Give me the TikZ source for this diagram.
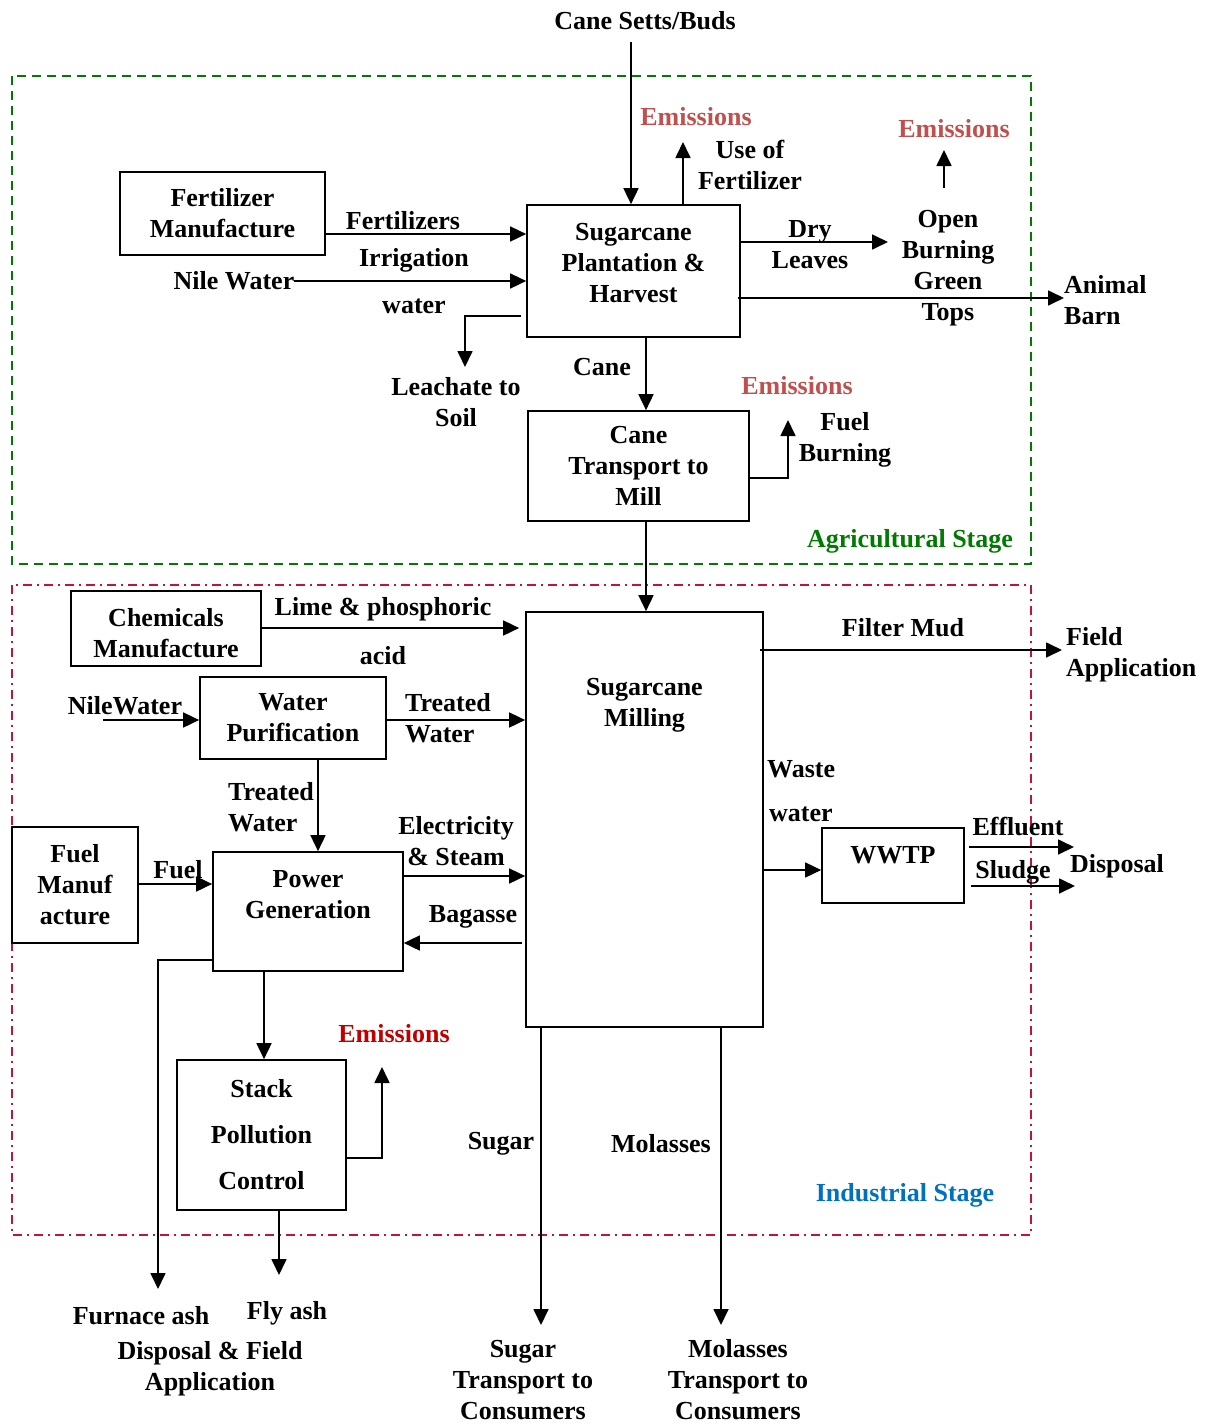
\documentclass[tikz,border=0pt]{standalone}
\usepackage{fontspec}
\setmainfont{Liberation Serif}
\usetikzlibrary{arrows.meta}
\definecolor{agri-green}{HTML}{007A00}
\definecolor{ind-red}{HTML}{C0143C}
\definecolor{emis-soft}{HTML}{C0504D}
\definecolor{emis-red}{HTML}{C00000}
\definecolor{ind-blue}{HTML}{0070C0}

\begin{document}
\begin{tikzpicture}[x=1pt, y=-1pt,
        every node/.style={font=\bfseries\fontsize{26}{31}\selectfont, inner sep=0pt, align=center},
        box/.style={draw, line width=1.7pt},
        arr/.style={-{Triangle[length=16pt,width=15pt]}, line width=1.7pt}]
      \useasboundingbox (0,0) rectangle (1213,1424);
      \draw[agri-green, line width=1.5pt, dash pattern=on 9pt off 6pt] (12,76) rectangle (1031,564);
      \draw[ind-red, line width=1.5pt, dash pattern=on 9pt off 5pt on 2pt off 5pt] (12,585) rectangle (1031,1235);

      \node[box, minimum width=205pt, minimum height=83pt] (FERT) at (222.5,213.5) {Fertilizer\\Manufacture};
      \node[box, minimum width=213pt, minimum height=132pt,
            label={[yshift=8pt]center:{Sugarcane\\Plantation \&\\Harvest}}] (PLANT) at (633.5,271) {};
      \node[box, minimum width=221pt, minimum height=110pt] (TRANSP) at (638.5,466) {Cane\\Transport to\\Mill};
      \node[box, minimum width=190pt, minimum height=75pt,
            label={[yshift=-5pt]center:{Chemicals\\Manufacture}}] (CHEM) at (166,628.5) {};
      \node[box, minimum width=237pt, minimum height=415pt,
            label={[anchor=north, yshift=-67pt]north:{Sugarcane\\Milling}}] (MILL) at (644.5,819.5) {};
      \node[box, minimum width=186pt, minimum height=82pt] (PURIF) at (293,718) {Water\\Purification};
      \node[box, minimum width=142pt, minimum height=75pt, text depth=22pt] (WWTP) at (893,865.5) {WWTP};
      \node[box, minimum width=126pt, minimum height=116pt] (FUELM) at (75,885) {Fuel\\Manuf\\acture};
      \node[box, minimum width=190pt, minimum height=119pt,
            label={[yshift=17pt]center:{Power\\Generation}}] (POWER) at (308,911.5) {};
      \node[box, minimum width=169pt, minimum height=150pt] (STACK) at (261.5,1135) {Stack\\[15pt]Pollution\\[15pt]Control};

      \node (SETTS) at (645,21) {Cane Setts/Buds};
      \node (LFERTS) at (403,221) {Fertilizers};
      \node (LIRRIG) at (414,260) {Irrigation};
      \node (LWATER) at (414,306) {water};
      \node (NILE1) at (234,281) {Nile Water};
      \node (LEACH) at (456,402) {Leachate to\\Soil};
      \node[text=emis-soft] (EM1) at (696,117) {Emissions};
      \node (USEF) at (750,165) {Use of\\Fertilizer};
      \node (DRY) at (810,245) {Dry\\Leaves};
      \node (OPEN) at (948,268) {Open\\Burning\\Green\\Tops};
      \node[text=emis-soft] (EM2) at (954,129) {Emissions};
      \node[anchor=west, align=left] (BARN) at (1064,300) {Animal\\Barn};
      \node (LCANE) at (602,367) {Cane};
      \node[text=emis-soft] (EM3) at (797,386) {Emissions};
      \node (FUELB) at (845,440) {Fuel\\Burning};
      \node[text=agri-green] (AGRI) at (910,541) {Agricultural Stage};

      \node (LLIME) at (383,609) {Lime \& phosphoric};
      \node (LACID) at (383,656) {acid};
      \node (LMUD) at (903,628) {Filter Mud};
      \node[anchor=west, align=left] (FIELD) at (1066,655) {Field\\Application};
      \node (NILE2) at (125,706) {NileWater};
      \node[anchor=west, align=left] (LTREAT1) at (405,718) {Treated\\Water};
      \node[anchor=west] (LWASTE) at (767,769) {Waste};
      \node[anchor=west] (LWWATER) at (769,814) {water};
      \node (LEFFL) at (1018,826) {Effluent};
      \node (LSLUDGE) at (1013,872) {Sludge};
      \node (DISP) at (1117,866) {Disposal};
      \node[anchor=west, align=left] (LTREAT2) at (228,807) {Treated\\Water};
      \node (LFUEL) at (178,870) {Fuel};
      \node (LELEC) at (456,841) {Electricity\\\& Steam};
      \node (LBAG) at (473,917) {Bagasse};
      \node[text=emis-red] (EM4) at (394,1034) {Emissions};
      \node (LSUGAR) at (501,1144) {Sugar};
      \node (LMOL) at (661,1144) {Molasses};
      \node[text=ind-blue] (INDS) at (905,1195) {Industrial Stage};
      \node (FLYASH) at (287,1313) {Fly ash};
      \node (FURN) at (141,1316) {Furnace ash};
      \node (DISPF) at (210,1369) {Disposal \& Field\\Application};
      \node (SUGT) at (523,1380) {Sugar\\Transport to\\Consumers};
      \node (MOLT) at (738,1380) {Molasses\\Transport to\\Consumers};

      \coordinate (c-setts) at (631,42);
      \coordinate (c-leach) at (465,367);
      \coordinate (c-em1) at (683,142);
      \coordinate (c-dry) at (888,242);
      \coordinate (c-em2a) at (944,188);
      \coordinate (c-em2b) at (944,150);
      \coordinate (c-fuelb) at (788,420);
      \coordinate (c-nile2) at (103,720);
      \coordinate (c-eff) at (1074,847);
      \coordinate (c-slu) at (1075,886);
      \coordinate (c-furn) at (158,1289);
      \coordinate (c-em4) at (382,1067);
      \coordinate (c-fly) at (279,1275);
      \coordinate (c-sugar) at (541,1325);
      \coordinate (c-mol) at (721,1325);

      \draw[arr] (c-setts) -- (c-setts |- PLANT.north);
      \draw[arr] (FERT.east |- 0,234) -- (PLANT.west |- 0,234);
      \draw[arr] (NILE1.east) -- (PLANT.west |- NILE1.east);
      \draw[arr] ([xshift=-5pt]PLANT.west |- 0,316) -| (c-leach);
      \draw[arr] (PLANT.north -| c-em1) -- (c-em1);
      \draw[arr] (PLANT.east |- c-dry) -- (c-dry);
      \draw[arr] ([xshift=-3pt]PLANT.east |- 0,298) -- (BARN.west |- 0,298);
      \draw[arr] (c-em2a) -- (c-em2b);
      \draw[arr] (PLANT.south -| 646,0) -- (TRANSP.north -| 646,0);
      \draw[arr] (TRANSP.east |- 0,478) -| (c-fuelb);
      \draw[arr] (TRANSP.south -| 646,0) -- (MILL.north -| 646,0);

      \draw[arr] (CHEM.east |- 0,628) -- ([xshift=-6pt]MILL.west |- 0,628);
      \draw[arr] ([xshift=-4pt]MILL.east |- 0,650) -- ([xshift=-4pt]FIELD.west |- 0,650);
      \draw[arr] (c-nile2) -- (PURIF.west |- c-nile2);
      \draw[arr] (PURIF.east |- 0,720) -- (MILL.west |- 0,720);
      \draw[arr] (MILL.east |- 0,870) -- (WWTP.west |- 0,870);
      \draw[arr] ([xshift=4pt]WWTP.east |- c-eff) -- (c-eff);
      \draw[arr] ([xshift=6pt]WWTP.east |- c-slu) -- (c-slu);
      \draw[arr] (PURIF.south -| 318,0) -- (POWER.north -| 318,0);
      \draw[arr] (FUELM.east |- 0,884) -- (POWER.west |- 0,884);
      \draw[arr] (POWER.east |- 0,876) -- (MILL.west |- 0,876);
      \draw[arr] ([xshift=-3pt]MILL.west |- 0,943) -- (POWER.east |- 0,943);
      \draw[arr] (POWER.west |- 0,960) -| (c-furn);
      \draw[arr] (POWER.south -| 264,0) -- (STACK.north -| 264,0);
      \draw[arr] (STACK.east |- 0,1158) -| (c-em4);
      \draw[arr] (STACK.south -| c-fly) -- (c-fly);
      \draw[arr] (MILL.south -| c-sugar) -- (c-sugar);
      \draw[arr] (MILL.south -| c-mol) -- (c-mol);
    \end{tikzpicture}
\end{document}
